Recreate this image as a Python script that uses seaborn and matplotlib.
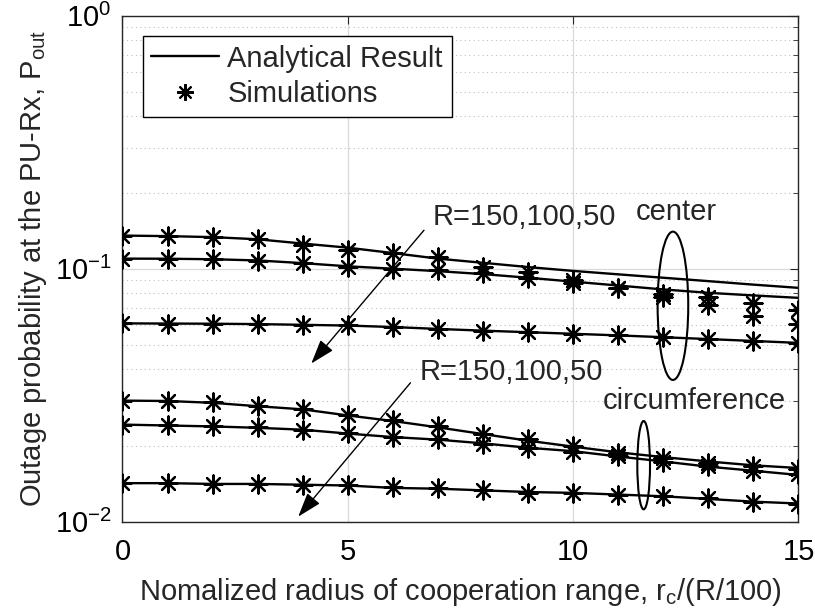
import seaborn as sns
import pandas as pd
import matplotlib.pyplot as plt
from matplotlib.lines import Line2D
from matplotlib.patches import Ellipse
from matplotlib.ticker import LogLocator, NullLocator, FixedFormatter

# normalized radius r_c/(R/100)
x_vals = list(range(16))

# analytical curves, center case
ana_center_150 = [0.1352, 0.1345, 0.1333, 0.1307, 0.1257, 0.1211, 0.1153, 0.1096, 0.1055, 0.1015, 0.0980, 0.0950, 0.0921, 0.0893, 0.0865, 0.0840]
ana_center_100 = [0.1096, 0.1095, 0.1090, 0.1078, 0.1052, 0.1022, 0.1000, 0.0978, 0.0952, 0.0921, 0.0889, 0.0858, 0.0828, 0.0803, 0.0784, 0.0767]
ana_center_50 = [0.0608, 0.0607, 0.0606, 0.0604, 0.0600, 0.0596, 0.0588, 0.0578, 0.0569, 0.0561, 0.0553, 0.0545, 0.0536, 0.0527, 0.0518, 0.0509]
# analytical curves, circumference case
ana_circ_150 = [0.0301, 0.0300, 0.0295, 0.0286, 0.0278, 0.0263, 0.0250, 0.0236, 0.0222, 0.0209, 0.0198, 0.0188, 0.0180, 0.0173, 0.0167, 0.0163]
ana_circ_100 = [0.0242, 0.0240, 0.0238, 0.0235, 0.0231, 0.0223, 0.0216, 0.0211, 0.0204, 0.0196, 0.0190, 0.0181, 0.0173, 0.0165, 0.0159, 0.0153]
ana_circ_50 = [0.0142, 0.0142, 0.0141, 0.0141, 0.0140, 0.0139, 0.0136, 0.0135, 0.0133, 0.0131, 0.0130, 0.0128, 0.0126, 0.0123, 0.0120, 0.0118]

# simulation points
sim_center_150 = [0.1352, 0.1345, 0.1333, 0.1307, 0.1245, 0.1190, 0.1150, 0.1112, 0.1015, 0.0969, 0.0899, 0.0840, 0.0796, 0.0772, 0.0735, 0.0685]
sim_center_100 = [0.1096, 0.1095, 0.1090, 0.1075, 0.1050, 0.1020, 0.0998, 0.0985, 0.0965, 0.0915, 0.0875, 0.0836, 0.0776, 0.0718, 0.0650, 0.0605]
sim_center_50 = [0.0608, 0.0607, 0.0606, 0.0604, 0.0600, 0.0597, 0.0587, 0.0577, 0.0568, 0.0560, 0.0552, 0.0545, 0.0537, 0.0527, 0.0517, 0.0508]
sim_circ_150 = [0.0301, 0.0300, 0.0296, 0.0286, 0.0278, 0.0265, 0.0252, 0.0238, 0.0223, 0.0212, 0.0199, 0.0187, 0.0178, 0.0171, 0.0166, 0.0161]
sim_circ_100 = [0.0242, 0.0241, 0.0238, 0.0236, 0.0231, 0.0224, 0.0216, 0.0213, 0.0203, 0.0195, 0.0188, 0.0181, 0.0172, 0.0166, 0.0159, 0.0154]
sim_circ_50 = [0.0142, 0.0142, 0.0141, 0.0141, 0.0140, 0.0140, 0.0137, 0.0136, 0.0133, 0.0130, 0.0130, 0.0127, 0.0126, 0.0124, 0.0120, 0.0118]

y_tick_values = [0.01, 0.1, 1]
y_tick_labels = ["$10^{-2}$", "$10^{-1}$", "$10^{0}$"]

ana_curves = {
    "center R=150": ana_center_150, "center R=100": ana_center_100, "center R=50": ana_center_50,
    "circ R=150": ana_circ_150, "circ R=100": ana_circ_100, "circ R=50": ana_circ_50,
}
sim_curves = {
    "center R=150": sim_center_150, "center R=100": sim_center_100, "center R=50": sim_center_50,
    "circ R=150": sim_circ_150, "circ R=100": sim_circ_100, "circ R=50": sim_circ_50,
}

# long tables for seaborn
ana_df = pd.concat([pd.DataFrame({"x": x_vals, "P": v, "curve": k}) for k, v in ana_curves.items()])
sim_df = pd.concat([pd.DataFrame({"x": x_vals, "P": v, "curve": k}) for k, v in sim_curves.items()])

sns.set_style("white")
plt.rcParams['font.family'] = ['Liberation Sans', 'DejaVu Sans']
plt.rcParams['mathtext.default'] = 'regular'
plt.rcParams['axes.unicode_minus'] = False

FS = 21
fig = plt.figure(figsize=(8.15, 6.16), dpi=100)
ax = fig.add_axes([0.1503, 0.1531, 0.8294, 0.8214])

asterisk = (8, 2, 0)
sns.lineplot(data=ana_df, x="x", y="P", units="curve", estimator=None,
             color="black", linewidth=1.7, ax=ax, legend=False)
sns.scatterplot(data=sim_df, x="x", y="P", marker=asterisk, s=170,
                color="black", edgecolor="black", linewidth=1.6, ax=ax, legend=False, zorder=3)

ax.set_yscale("log")
ax.set_xlim(0, 15)
ax.set_ylim(1e-2, 1)
ax.set_xticks([0, 5, 10, 15])
ax.xaxis.set_minor_locator(NullLocator())
ax.set_yticks(y_tick_values)
ax.yaxis.set_major_formatter(FixedFormatter(y_tick_labels))
ax.yaxis.set_minor_locator(LogLocator(base=10, subs=range(2, 10)))

# MATLAB-like grid
ax.grid(which="major", color="0.85", linestyle="-", linewidth=0.9)
ax.grid(which="minor", axis="y", color="0.75", linestyle=(0, (1, 3)), linewidth=0.8)
ax.set_axisbelow(True)

ax.tick_params(which="both", direction="in", top=True, right=True, colors="0.15", labelcolor="black")
ax.tick_params(which="major", length=6, width=0.8, labelsize=FS)
ax.tick_params(axis="x", which="major", pad=12)
ax.tick_params(axis="y", which="major", pad=8)
ax.tick_params(which="minor", length=3.5, width=0.6)
for sp in ax.spines.values():
    sp.set_color("0.15")
    sp.set_linewidth(1.0)

ax.set_xlabel("Nomalized radius of cooperation range, r$_c$/(R/100)", fontsize=FS, labelpad=7)
ax.set_ylabel("Outage probability at the PU-Rx, P$_{out}$", fontsize=FS, labelpad=4)

# annotations
ax.text(6.89, 0.160, "R=150,100,50", fontsize=FS, ha="left", va="center")
ax.text(6.6, 0.0392, "R=150,100,50", fontsize=FS, ha="left", va="center")
ax.text(12.30, 0.1677, "center", fontsize=FS, ha="center", va="center")
ax.text(12.70, 0.0299, "circumference", fontsize=FS, ha="center", va="center")

arrow_style = dict(arrowstyle="-|>,head_length=1.5,head_width=0.5", color="black",
                   linewidth=1.0, shrinkA=0, shrinkB=0)
ax.annotate("", xy=(4.19, 0.0422), xytext=(6.69, 0.1419), arrowprops=arrow_style)
ax.annotate("", xy=(3.90, 0.01047), xytext=(6.39, 0.0354), arrowprops=arrow_style)

ax.add_patch(Ellipse((0.8143, 0.4267), 0.0453, 0.2931, transform=ax.transAxes,
                     fill=False, edgecolor="black", linewidth=1.5))
ax.add_patch(Ellipse((0.771, 0.1117), 0.0188, 0.1745, transform=ax.transAxes,
                     fill=False, edgecolor="black", linewidth=1.5))

handles = [
    Line2D([], [], color="black", linewidth=1.7, label="Analytical Result"),
    Line2D([], [], color="black", linestyle="none", marker=asterisk, markersize=12,
           markeredgewidth=1.5, label="Simulations"),
]
leg = ax.legend(handles=handles, loc="upper left", bbox_to_anchor=(0.0299, 0.960),
                borderaxespad=0, fontsize=FS, frameon=True, fancybox=False,
                framealpha=1, edgecolor="black", handlelength=2.3, handletextpad=0.3,
                labelspacing=0.25, borderpad=0.3)
leg.get_frame().set_linewidth(1.0)

fig.savefig("out.png", dpi=100)
